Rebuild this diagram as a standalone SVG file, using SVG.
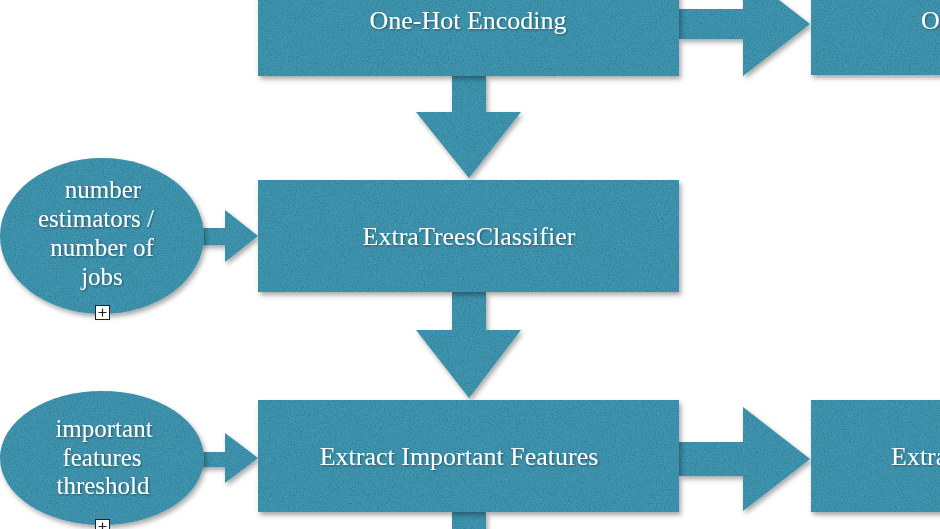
<svg xmlns="http://www.w3.org/2000/svg" width="940" height="529" viewBox="0 0 940 529">
<defs>
<filter id="tx" x="-10%" y="-10%" width="125%" height="130%">
<feTurbulence type="fractalNoise" baseFrequency="0.85" numOctaves="2" seed="4" result="n"/>
<feColorMatrix in="n" type="matrix" values="0 0 0 0 0  0 0 0 0 0  0 0 0 0 0  0 0 0 -0.8 0.48" result="na"/>
<feComposite in="na" in2="SourceAlpha" operator="in" result="nm"/>
<feGaussianBlur in="SourceAlpha" stdDeviation="2.5" result="b"/>
<feOffset in="b" dx="2" dy="3" result="ob"/>
<feFlood flood-color="#000" flood-opacity="0.35"/>
<feComposite in2="ob" operator="in" result="sh"/>
<feMerge><feMergeNode in="sh"/><feMergeNode in="SourceGraphic"/><feMergeNode in="nm"/></feMerge>
</filter>
<filter id="ts" x="-10%" y="-30%" width="120%" height="160%">
<feGaussianBlur in="SourceAlpha" stdDeviation="1" result="b"/>
<feOffset in="b" dx="1" dy="1" result="o"/>
<feFlood flood-color="#000" flood-opacity="0.4"/>
<feComposite in2="o" operator="in" result="s"/>
<feMerge><feMergeNode in="s"/><feMergeNode in="SourceGraphic"/></feMerge>
</filter>
</defs>
<style>
.sh{fill:#3f96b1;filter:url(#tx)}
.t{font-family:"Liberation Serif","DejaVu Serif",serif;font-size:25px;fill:#fff;text-anchor:middle;filter:url(#ts)}
.b{font-size:26px}
.ic{fill:#fff;stroke:#222;stroke-width:1}
</style>
<rect width="940" height="529" fill="#fff"/>
<g id="connectors">
<polygon class="sh" points="679,9 743,9 743,-28 810,24 743,76 743,39 679,39"/>
<polygon class="sh" points="452,76 486,76 486,112 521,112 469,178 416,112 452,112"/>
<polygon class="sh" points="452,292 486,292 486,330 521,330 469,398 416,330 452,330"/>
<polygon class="sh" points="679,442 743,442 743,407 810,459 743,511 743,476 679,476"/>
<polygon class="sh" points="452,512 486,512 486,540 452,540"/>
<polygon class="sh" points="200,228 225,228 225,210 258,236 225,262 225,245 200,245"/>
<polygon class="sh" points="200,452 225,452 225,433 258,458 225,483 225,467 200,467"/>
</g>
<g id="node-onehot">
<rect class="sh" x="258" y="-20" width="421" height="96"/>
<text class="t b" x="468" y="29">One-Hot Encoding</text>
</g>
<g id="node-right-top">
<rect class="sh" x="811" y="-20" width="150" height="95"/>
<text class="t b" x="921" y="29" style="text-anchor:start">O</text>
</g>
<g id="node-extratrees">
<rect class="sh" x="258" y="180" width="421" height="112"/>
<text class="t b" x="469" y="245">ExtraTreesClassifier</text>
</g>
<g id="node-extract">
<rect class="sh" x="258" y="400" width="421" height="112"/>
<text class="t b" x="459" y="465">Extract Important Features</text>
</g>
<g id="node-right-bottom">
<rect class="sh" x="811" y="400" width="150" height="112"/>
<text class="t b" x="891" y="465" style="text-anchor:start">Extra</text>
</g>
<g id="node-estimators">
<ellipse class="sh" cx="102" cy="236" rx="102" ry="78"/>
<text class="t" x="103" y="198">number</text>
<text class="t" x="96" y="227">estimators /</text>
<text class="t" x="102" y="256">number of</text>
<text class="t" x="102" y="285">jobs</text>
<rect class="ic" x="95.5" y="305.5" width="14" height="14"/>
<path d="M98.5 312.5h8M102.5 308.5v8" stroke="#222" stroke-width="1.2"/>
</g>
<g id="node-threshold">
<ellipse class="sh" cx="102" cy="458" rx="102" ry="67"/>
<text class="t" x="104" y="437">important</text>
<text class="t" x="102" y="466">features</text>
<text class="t" x="103" y="494">threshold</text>
<rect class="ic" x="95.5" y="519.5" width="14" height="14"/>
<path d="M98.5 526.5h8M102.5 522.5v8" stroke="#222" stroke-width="1.2"/>
</g>
</svg>
